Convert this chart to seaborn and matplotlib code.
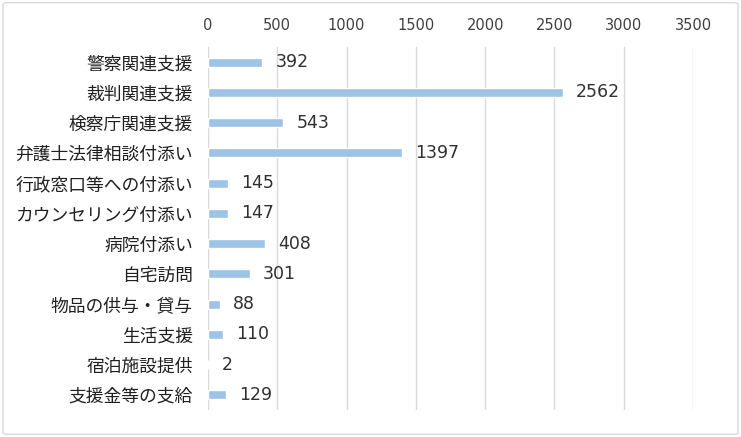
import matplotlib
matplotlib.use("Agg")
import matplotlib.pyplot as plt
import seaborn as sns
import pandas as pd
from matplotlib.patches import FancyBboxPatch

categories = ["警察関連支援", "裁判関連支援", "検察庁関連支援", "弁護士法律相談付添い",
              "行政窓口等への付添い", "カウンセリング付添い", "病院付添い", "自宅訪問",
              "物品の供与・貸与", "生活支援", "宿泊施設提供", "支援金等の支給"]
values = [392, 2562, 543, 1397, 145, 147, 408, 301, 88, 110, 2, 129]
xticks = [0, 500, 1000, 1500, 2000, 2500, 3000, 3500]

sns.set_theme(style="white")
plt.rcParams['font.family'] = ['Noto Sans CJK JP', 'DejaVu Sans']

df = pd.DataFrame({"cat": categories, "val": values})

fig = plt.figure(figsize=(7.41, 4.37), dpi=100)
ax = fig.add_axes([208/741, 1-410/437, (693-208)/741, (410-47)/437])

sns.barplot(data=df, x="val", y="cat", color="#9DC3E6", saturation=1,
            width=0.3, ax=ax, zorder=3)

ax.set_xlim(0, 3500)
ax.set_xticks(xticks)
ax.set_xticklabels([str(t) for t in xticks], family="DejaVu Sans")
ax.xaxis.tick_top()
ax.tick_params(axis='x', length=0, pad=10, labelsize=10.5, colors="#404040")
ax.tick_params(axis='y', length=0, pad=11, labelsize=12.8, colors="#202020")
ax.set_xlabel("")
ax.set_ylabel("")
ax.grid(axis='x', color="#D9D9D9", linewidth=1, zorder=0)
for s in ax.spines.values():
    s.set_visible(False)

for i, v in enumerate(values):
    ax.text(v + 95, i, str(v), va="center", ha="left", fontsize=12.5,
            color="#303030", family="DejaVu Sans")

border = FancyBboxPatch((0.004, 0.006), 0.992, 0.988, boxstyle="round,pad=0,rounding_size=0.005",
                        transform=fig.transFigure, fill=False, edgecolor="#D9D9D9", linewidth=1)
fig.patches.append(border)

fig.savefig("out.png", dpi=100)
